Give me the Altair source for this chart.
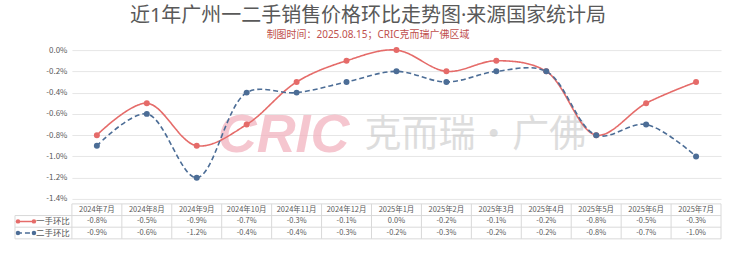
import altair as alt
import pandas as pd

months = ["2024年7月", "2024年8月", "2024年9月", "2024年10月", "2024年11月", "2024年12月",
          "2025年1月", "2025年2月", "2025年3月", "2025年4月", "2025年5月", "2025年6月", "2025年7月"]
new_home = [-0.8, -0.5, -0.9, -0.7, -0.3, -0.1, 0.0, -0.2, -0.1, -0.2, -0.8, -0.5, -0.3]
second_hand = [-0.9, -0.6, -1.2, -0.4, -0.4, -0.3, -0.2, -0.3, -0.2, -0.2, -0.8, -0.7, -1.0]
series_names = ["一手环比", "二手环比"]
y_ticks = [0.0, -0.2, -0.4, -0.6, -0.8, -1.0, -1.2, -1.4]

title_text = "近1年广州一二手销售价格环比走势图·来源国家统计局"
subtitle_text = "制图时间：2025.08.15；CRIC克而瑞广佛区域"

RED = "#E56B69"
BLUE = "#4C6D96"
FONT = "Noto Sans CJK SC"
TFONT = "Noto Sans, Noto Sans CJK SC"
TXT = "#595959"
LINE = "#D9D9D9"

def fmt(v):
    return ("-" if v < 0 else "") + f"{abs(v):.1f}%"

rows = []
for name, vals in zip(series_names, [new_home, second_hand]):
    for m, v in zip(months, vals):
        rows.append({"month": m, "series": name, "value": v, "label": fmt(v)})
df = pd.DataFrame(rows)

color = alt.Color("series:N", scale=alt.Scale(domain=series_names, range=[RED, BLUE]), legend=None)
dash = alt.StrokeDash("series:N", scale=alt.Scale(domain=series_names, range=[[1, 0], [5, 3]]), legend=None)

W, H_TOP, H_TAB = 650, 149, 35

x_top = alt.X("month:N", sort=months, scale=alt.Scale(type="point", padding=0.5), axis=None)
y_top = alt.Y("value:Q", scale=alt.Scale(domain=[-1.4, 0], nice=False, zero=False),
              axis=alt.Axis(values=y_ticks, title=None, domain=False, ticks=False,
                            labelExpr="(datum.value < 0 ? '-' : '') + format(abs(datum.value), '.1f') + '%'",
                            labelColor=TXT, labelFontSize=8, labelFont=FONT, labelPadding=5,
                            gridColor="#E6E6E6", gridWidth=1))

base = alt.Chart(df)
lines = base.mark_line(interpolate="catmull-rom", strokeWidth=1.6).encode(
    x=x_top, y=y_top, color=color, strokeDash=dash)
points = base.mark_circle(size=36, opacity=1).encode(x=x_top, y=y_top, color=color)

wm1 = alt.Chart(pd.DataFrame({"t": ["CRIC"]})).mark_text(
    font="Liberation Sans", fontSize=54, fontWeight="bold", fontStyle="italic",
    color="#F2AFBC", opacity=0.7, align="left", baseline="middle").encode(
    x=alt.value(146), y=alt.value(86), text="t:N")
wm2 = alt.Chart(pd.DataFrame({"t": ["克而瑞·广佛"]})).mark_text(
    font=FONT, fontSize=37, color="#C8C8C8", opacity=0.6, align="left", baseline="middle").encode(
    x=alt.value(293), y=alt.value(86), text="t:N")

top = alt.layer(wm1, wm2, lines, points).properties(width=W, height=H_TOP)

# ---- data table ----
row_order = ["header"] + series_names
tab_rows = [{"month": m, "row": "header", "text": m, "series": ""} for m in months]
tab_rows += [{"month": r["month"], "row": r["series"], "text": r["label"], "series": r["series"]} for r in rows]
tab = pd.DataFrame(tab_rows)

band = alt.Scale(type="band", paddingInner=0, paddingOuter=0)
x_tab = alt.X("month:N", sort=months, scale=band, axis=None)
y_tab = alt.Y("row:N", sort=row_order, scale=band, axis=None)

cell_text = alt.Chart(tab).mark_text(font=FONT, fontSize=7.5, color=TXT).encode(
    x=x_tab, y=y_tab, text="text:N")

months_df = pd.DataFrame({"month": months})
vlines = alt.Chart(months_df).mark_rule(color=LINE, strokeWidth=1).encode(
    x=alt.X("month:N", sort=months, bandPosition=0, scale=band, axis=None),
    y=alt.value(0), y2=alt.value("height"))
series_df = pd.DataFrame({"row": series_names, "series": series_names})
y_row_top = alt.Y("row:N", sort=row_order, bandPosition=0, scale=band, axis=None)
hlines = alt.Chart(series_df).mark_rule(color=LINE, strokeWidth=1).encode(
    y=y_row_top, x=alt.value(-57), x2=alt.value("width"))
first_row = pd.DataFrame({"row": [series_names[0]]})
left_v = alt.Chart(first_row).mark_rule(color=LINE, strokeWidth=1).encode(
    y=y_row_top, y2=alt.value("height"), x=alt.value(-57))
frame_df = pd.DataFrame({"k": [0]})
top_h = alt.Chart(frame_df).mark_rule(color=LINE, strokeWidth=1).encode(
    y=alt.value(0), x=alt.value(0), x2=alt.value("width"))
bot_h = alt.Chart(frame_df).mark_rule(color=LINE, strokeWidth=1).encode(
    y=alt.value("height"), x=alt.value(-57), x2=alt.value("width"))
right_v = alt.Chart(frame_df).mark_rule(color=LINE, strokeWidth=1).encode(
    x=alt.value("width"), y=alt.value(0), y2=alt.value("height"))

y_row_mid = alt.Y("row:N", sort=row_order, scale=band, axis=None)
leg_line = alt.Chart(series_df).mark_rule(strokeWidth=1.5).encode(
    y=y_row_mid, x=alt.value(-55), x2=alt.value(-37), color=color, strokeDash=dash)
leg_pt1 = alt.Chart(series_df).mark_circle(size=20, opacity=1).encode(
    y=y_row_mid, x=alt.value(-54), color=color)
leg_pt2 = alt.Chart(series_df).mark_circle(size=20, opacity=1).encode(
    y=y_row_mid, x=alt.value(-38), color=color)
leg_txt = alt.Chart(series_df).mark_text(font=FONT, fontSize=8.5, color=TXT, align="left").encode(
    y=y_row_mid, x=alt.value(-36), text="series:N")

table = alt.layer(vlines, hlines, left_v, top_h, bot_h, right_v, cell_text,
                  leg_line, leg_pt1, leg_pt2, leg_txt).properties(width=W, height=H_TAB)

chart = alt.vconcat(top, table, spacing=0).resolve_scale(
    x="independent", y="independent", color="shared", strokeDash="shared"
).properties(
    title=alt.TitleParams(text=title_text, subtitle=subtitle_text, font=TFONT, fontSize=20,
                          fontWeight="normal", color=TXT, subtitleFont=TFONT, subtitleFontSize=10,
                          subtitleColor="#C0504D", anchor="middle", offset=6, subtitlePadding=4),
    padding={"left": 14, "top": 6, "right": 18, "bottom": 20},
    background="white",
).configure_view(stroke=None)

chart.save("out.html", embed_options={"renderer": "svg", "actions": False})
